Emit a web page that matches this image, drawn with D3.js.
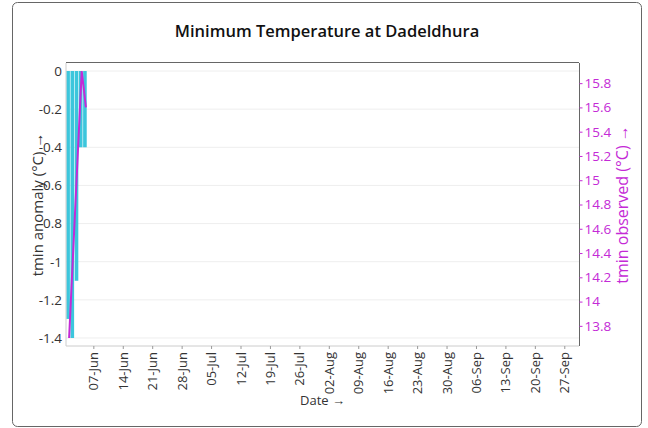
<!DOCTYPE html>
<html lang="en">
<head>
<meta charset="UTF-8">
<title>Minimum Temperature at Dadeldhura</title>
<script src="https://cdn.jsdelivr.net/npm/d3@7"></script>
<style>
    body { margin: 0; background: #fff; font-family: "Open Sans", "Noto Sans", sans-serif; }
    .tick text { font-size: 13.5px; }
</style>
</head>
<body>
<div id="chart"></div>
<script>
    // data (year picked so that weekly ticks fall on Sundays)
    const anomalyDates = ["2020-06-01", "2020-06-02", "2020-06-03", "2020-06-04", "2020-06-05"];
    const anomalyValues = [-1.3, -1.4, -1.1, -0.4, -0.4];
    const observedDates = ["2020-06-01", "2020-06-04", "2020-06-05"];
    const observedValues = [13.7, 15.9, 15.6];
    const xDomain = ["2020-05-31T12:00", "2020-09-30T12:00"];

    const parse = d3.isoParse;
    const bars = anomalyDates.map((d, i) => ({ date: parse(d), value: anomalyValues[i] }));
    const pts = observedDates.map((d, i) => ({ date: parse(d), value: observedValues[i] }));

    const width = 648, height = 428;
    const margin = { top: 63, right: 69, bottom: 82, left: 66 };
    const barColor = "#3cc6dc";
    const lineColor = "#c42ad6";

    const svg = d3.select("#chart").append("svg")
        .attr("width", width)
        .attr("height", height)
        .style("font-family", "'Open Sans', sans-serif");

    // outer card
    svg.append("rect")
        .attr("x", 12.5).attr("y", 2.5)
        .attr("width", 629).attr("height", 424)
        .attr("rx", 5)
        .attr("fill", "#fff")
        .attr("stroke", "#666");

    svg.append("text")
        .attr("x", width / 2 + 3).attr("y", 37)
        .attr("text-anchor", "middle")
        .attr("font-size", 16.5)
        .attr("font-weight", 600)
        .attr("fill", "#111")
        .text("Minimum Temperature at Dadeldhura");

    const x = d3.scaleUtc()
        .domain(xDomain.map(d => parse(d + "Z")))
        .range([margin.left, width - margin.right]);

    // 3% padding on the extents, as the reference does
    function padded(vals, withZero) {
        let [lo, hi] = d3.extent(withZero ? vals.concat([0]) : vals);
        const p = (hi - lo) * 0.03;
        return [lo - p, hi + p];
    }
    const yL = d3.scaleLinear().domain(padded(anomalyValues, true)).range([height - margin.bottom, margin.top]);
    const yR = d3.scaleLinear().domain(padded(observedValues, false)).range([height - margin.bottom, margin.top]);

    const fmt = d => String(+d.toFixed(1));
    const x0 = margin.left, x1 = width - margin.right;
    const y0 = height - margin.bottom, y1 = margin.top;

    // grid lines
    svg.append("g")
        .selectAll("line")
        .data(yL.ticks(8))
        .join("line")
        .attr("x1", x0).attr("x2", x1)
        .attr("y1", d => yL(d)).attr("y2", d => yL(d))
        .attr("stroke", "#eee");

    // bars
    const utcDay = d => new Date(Date.UTC(d.getFullYear(), d.getMonth(), d.getDate()));
    const dayW = x(new Date(Date.UTC(2020, 5, 2))) - x(new Date(Date.UTC(2020, 5, 1)));
    svg.append("g")
        .selectAll("rect")
        .data(bars)
        .join("rect")
        .attr("x", d => x(utcDay(d.date)) - dayW / 2 + 0.3)
        .attr("width", dayW - 0.6)
        .attr("y", yL(0))
        .attr("height", d => yL(d.value) - yL(0))
        .attr("fill", barColor);

    // line
    svg.append("path")
        .datum(pts)
        .attr("fill", "none")
        .attr("stroke", lineColor)
        .attr("stroke-width", 2)
        .attr("d", d3.line().x(d => x(utcDay(d.date)) + 1).y(d => yR(d.value)));

    // frame
    svg.append("line").attr("x1", x0).attr("x2", x0).attr("y1", y1).attr("y2", y0).attr("stroke", "#ccc");
    svg.append("line").attr("x1", x0).attr("x2", x1).attr("y1", y0).attr("y2", y0).attr("stroke", "#ccc");
    svg.append("line").attr("x1", x0).attr("x2", x1).attr("y1", y1 - 0.5).attr("y2", y1 - 0.5).attr("stroke", "#666");
    svg.append("line").attr("x1", x1 + 0.5).attr("x2", x1 + 0.5).attr("y1", y1).attr("y2", y0).attr("stroke", "#666");

    // left axis
    const gl = svg.append("g")
        .attr("transform", `translate(${x0},0)`)
        .call(d3.axisLeft(yL).ticks(8).tickFormat(fmt).tickSize(0).tickPadding(4));
    gl.select(".domain").remove();
    gl.selectAll("text").attr("fill", "#333").style("font-family", "'Open Sans', sans-serif");

    // right axis
    const gr = svg.append("g")
        .attr("transform", `translate(${x1 + 0.5},0)`)
        .call(d3.axisRight(yR).ticks(12).tickFormat(fmt).tickSize(3).tickPadding(2));
    gr.select(".domain").remove();
    gr.selectAll("line").attr("stroke", lineColor);
    gr.selectAll("text").attr("fill", lineColor).style("font-family", "'Open Sans', sans-serif");

    // x axis
    const gx = svg.append("g")
        .attr("transform", `translate(0,${y0})`)
        .call(d3.axisBottom(x).ticks(d3.utcSunday.every(1)).tickFormat(d3.utcFormat("%d-%b")).tickSize(3).tickPadding(3));
    gx.select(".domain").remove();
    gx.selectAll("line").attr("stroke", "#999");
    gx.selectAll("text")
        .attr("transform", "rotate(-90)")
        .attr("text-anchor", "end")
        .attr("x", -6).attr("y", 0).attr("dy", "0.35em")
        .attr("fill", "#333")
        .style("font-family", "'Open Sans', sans-serif")
        .style("font-size", "13px");

    // axis titles
    svg.append("text")
        .attr("transform", `translate(43,${(y0 + y1) / 2}) rotate(-90)`)
        .attr("text-anchor", "middle")
        .attr("font-size", 15)
        .attr("fill", "#333")
        .text("tmin anomaly (°C) →");

    svg.append("text")
        .attr("transform", `translate(628,${(y0 + y1) / 2}) rotate(-90)`)
        .attr("text-anchor", "middle")
        .attr("font-size", 16)
        .attr("fill", lineColor)
        .text("tmin observed (°C) →");

    svg.append("text")
        .attr("x", (x0 + x1) / 2).attr("y", 405)
        .attr("text-anchor", "middle")
        .attr("font-size", 13)
        .attr("fill", "#333")
        .text("Date →");
</script>
</body>
</html>
